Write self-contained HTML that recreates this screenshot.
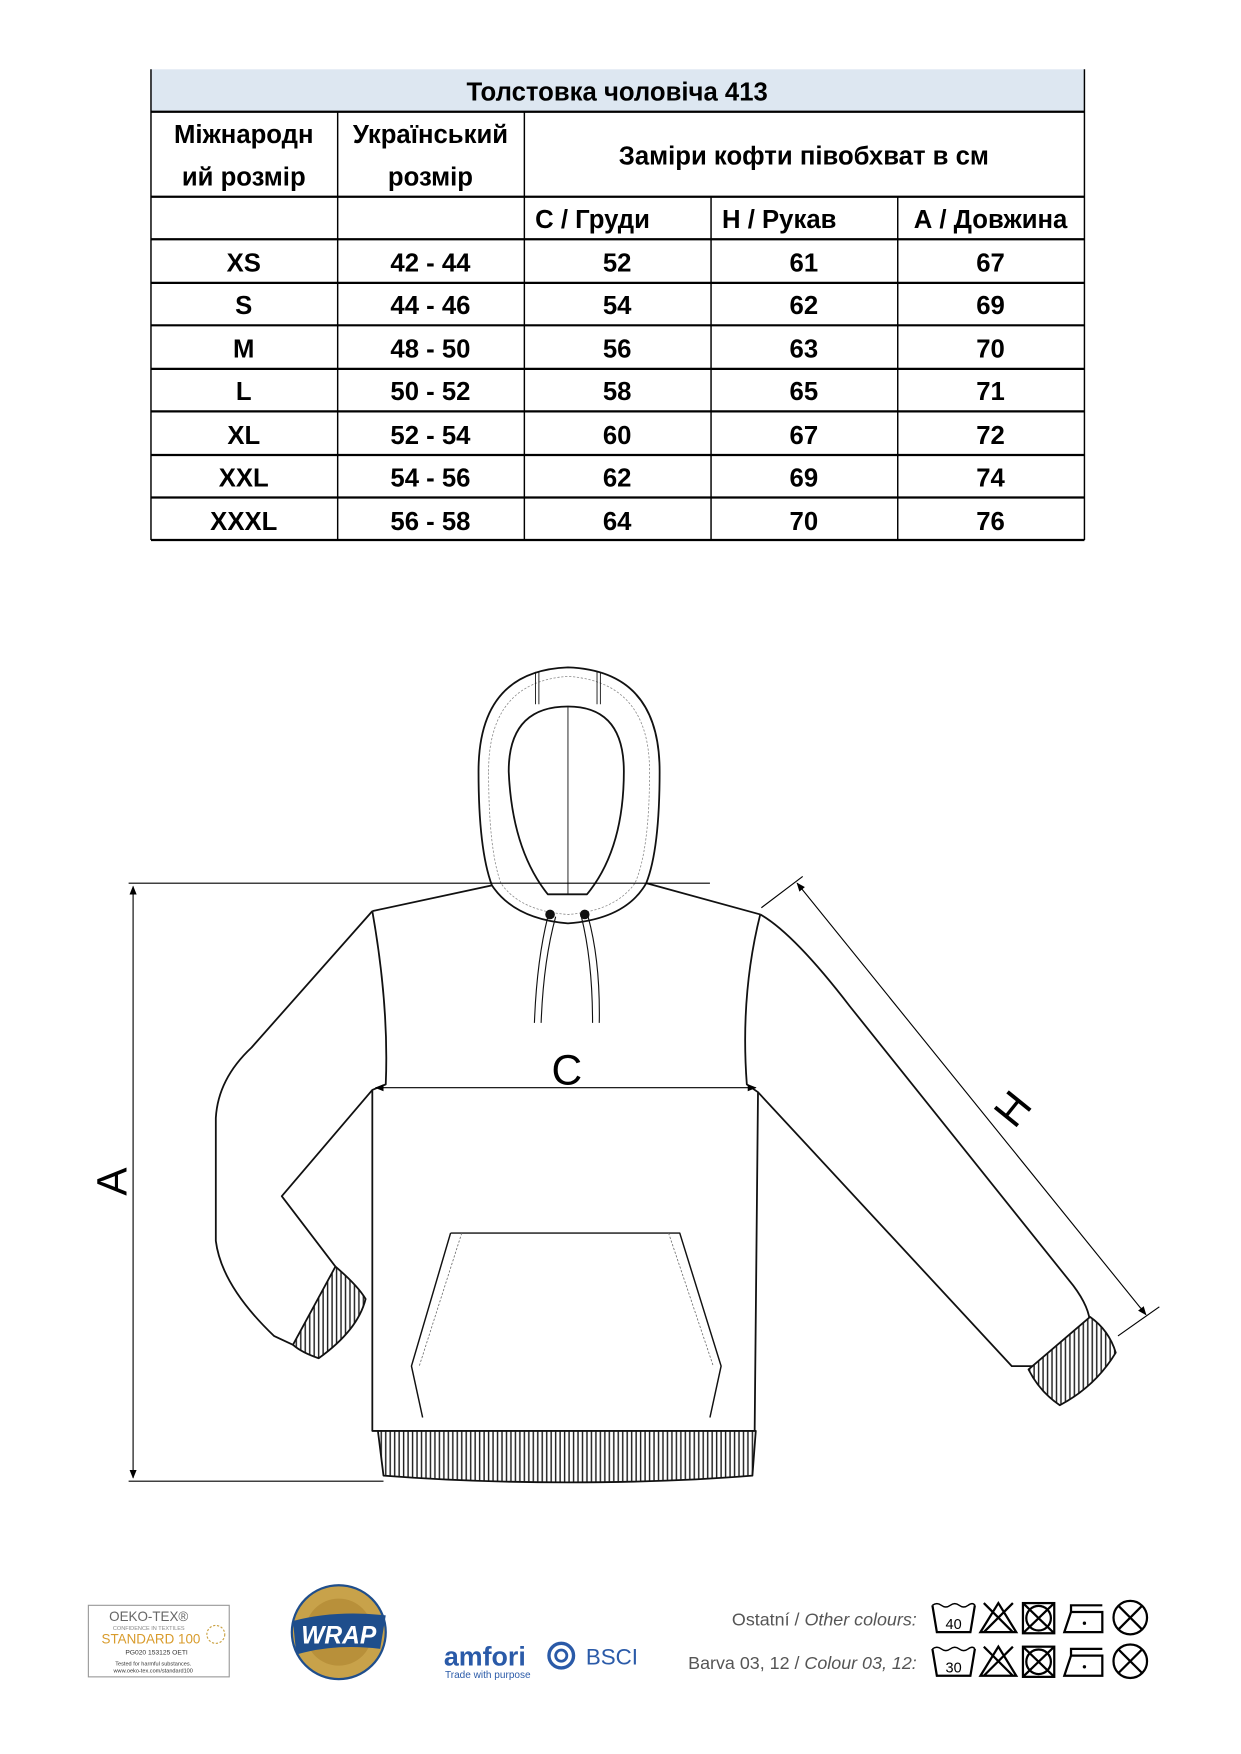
<!DOCTYPE html>
<html><head><meta charset="utf-8"><style>
html,body{margin:0;padding:0;background:#fff}
svg{display:block}
</style></head><body>
<svg width="1241" height="1754" viewBox="0 0 1110 1569" xmlns="http://www.w3.org/2000/svg">
<defs>
<pattern id="rib" width="4" height="10" patternUnits="userSpaceOnUse"><rect width="4" height="10" fill="#fff"/><line x1="1" y1="0" x2="1" y2="10" stroke="#222" stroke-width="1.3"/></pattern>
<marker id="ar" viewBox="0 0 10 10" refX="9" refY="5" markerWidth="8" markerHeight="8" orient="auto-start-reverse"><path d="M0,1 L10,5 L0,9 z" fill="#000"/></marker>
</defs>
<!-- TABLE -->
<g font-family="'Liberation Sans Narrow','Liberation Sans',sans-serif" font-weight="bold" font-size="23" text-anchor="middle" fill="#000">
<rect x="135" y="62" width="835" height="38" fill="#dde7f1"/>
<g stroke="#000" stroke-width="1.3">
<line x1="135" y1="100" x2="970" y2="100" stroke-width="2"/>
<line x1="135" y1="176" x2="970" y2="176" stroke-width="2"/>
<line x1="135" y1="214" x2="970" y2="214" stroke-width="2"/>
<line x1="135" y1="253" x2="970" y2="253" stroke-width="2"/>
<line x1="135" y1="291" x2="970" y2="291" stroke-width="2"/>
<line x1="135" y1="330" x2="970" y2="330" stroke-width="2"/>
<line x1="135" y1="368" x2="970" y2="368" stroke-width="2"/>
<line x1="135" y1="407" x2="970" y2="407" stroke-width="2"/>
<line x1="135" y1="445" x2="970" y2="445" stroke-width="2"/>
<line x1="135" y1="483" x2="970" y2="483" stroke-width="2"/>
<line x1="135" y1="62" x2="135" y2="483"/>
<line x1="970" y1="62" x2="970" y2="483"/>
<line x1="302" y1="100" x2="302" y2="483"/>
<line x1="469" y1="100" x2="469" y2="483"/>
<line x1="636" y1="176" x2="636" y2="483"/>
<line x1="803" y1="176" x2="803" y2="483"/>
</g>
<text x="552" y="90">Толстовка чоловіча 413</text>
<text x="218" y="128">Міжнародн</text><text x="218" y="166">ий розмір</text>
<text x="385" y="128">Український</text><text x="385" y="166">розмір</text>
<text x="719" y="147">Заміри кофти півобхват в см</text>
<text x="530" y="204">С / Груди</text><text x="697" y="204">Н / Рукав</text><text x="886" y="204">А / Довжина</text>
<g>
<text x="218" y="243">XS</text><text x="385" y="243">42 - 44</text><text x="552" y="243">52</text><text x="719" y="243">61</text><text x="886" y="243">67</text>
<text x="218" y="281">S</text><text x="385" y="281">44 - 46</text><text x="552" y="281">54</text><text x="719" y="281">62</text><text x="886" y="281">69</text>
<text x="218" y="320">M</text><text x="385" y="320">48 - 50</text><text x="552" y="320">56</text><text x="719" y="320">63</text><text x="886" y="320">70</text>
<text x="218" y="358">L</text><text x="385" y="358">50 - 52</text><text x="552" y="358">58</text><text x="719" y="358">65</text><text x="886" y="358">71</text>
<text x="218" y="397">XL</text><text x="385" y="397">52 - 54</text><text x="552" y="397">60</text><text x="719" y="397">67</text><text x="886" y="397">72</text>
<text x="218" y="435">XXL</text><text x="385" y="435">54 - 56</text><text x="552" y="435">62</text><text x="719" y="435">69</text><text x="886" y="435">74</text>
<text x="218" y="474">XXXL</text><text x="385" y="474">56 - 58</text><text x="552" y="474">64</text><text x="719" y="474">70</text><text x="886" y="474">76</text>
</g>
</g>

<!-- HOODIE -->
<g fill="none" stroke="#111" stroke-width="1.6" stroke-linejoin="round">
<path d="M333,815 L225,937 Q195,965 193,1000 L193,1110 Q198,1150 245,1195 L262,1203" fill="#fff"/>
<path d="M333,975 L252,1070 L300,1133" fill="#fff"/>
<path d="M680,818 Q710,835 760,900 L960,1150 Q975,1170 975,1185 L958,1202 Q940,1210 925,1222 L905,1222 L678,977"/>
<path d="M333,815 Q348,900 345,970 L333,975 L333,1280 L675,1280 L678,977 L668,970 Q662,890 680,818" fill="#fff"/>
<path d="M333,815 L440,792 M578,790 L680,818"/>
<path d="M440,792 Q428,760 428,690 Q428,600 508,597 Q590,600 590,690 Q590,760 578,790 Q560,822 508,826 Q460,822 440,792 Z" fill="#fff"/>
<path d="M508,632 Q455,632 455,690 Q458,760 490,800 L525,800 Q558,760 558,690 Q558,632 508,632 Z" fill="#fff"/>
<path d="M437,690 Q437,610 508,605 Q581,610 581,690 Q581,760 568,790 Q550,815 508,818 Q465,815 448,790 Q437,760 437,690Z" stroke="#888" stroke-width="0.7" stroke-dasharray="2,1.5"/>
<line x1="508" y1="632" x2="508" y2="800" stroke-width="0.8"/>
<path d="M479,601 L479,630 M482,601 L482,630 M534,601 L534,630 M537,601 L537,630" stroke-width="0.8"/>
<path d="M490,820 Q480,860 478,915 M497,820 Q486,860 484,915 M520,820 Q530,860 530,915 M526,820 Q537,860 536,915" stroke-width="1"/>
<circle cx="492" cy="818" r="3.5" fill="#111"/><circle cx="523" cy="818" r="3.5" fill="#111"/>
<path d="M403,1103 L608,1103 L645,1222 L635,1268 M403,1103 L368,1222 L378,1268" stroke-width="1.3"/>
<path d="M413,1103 L375,1222 M598,1103 L638,1222" stroke="#666" stroke-width="0.7" stroke-dasharray="2,1.5"/>
<path d="M338,1280 L676,1280 L673,1320 Q600,1326 508,1326 Q420,1326 343,1320 Z" fill="url(#rib)"/>
<path d="M262,1203 L300,1133 Q320,1150 327,1162 Q320,1190 285,1215 Q270,1210 262,1203 Z" fill="url(#rib)"/>
<path d="M920,1225 L975,1178 Q992,1190 998,1210 Q980,1240 948,1257 Q930,1245 920,1225 Z" fill="url(#rib)"/>
</g>
<g stroke="#000" stroke-width="1" fill="none">
<line x1="115" y1="790" x2="635" y2="790"/>
<line x1="115" y1="1325" x2="343" y2="1325"/>
<line x1="119" y1="793" x2="119" y2="1322" marker-start="url(#ar)" marker-end="url(#ar)"/>
<line x1="336" y1="973" x2="676" y2="973" marker-start="url(#ar)" marker-end="url(#ar)"/>
<line x1="681" y1="812" x2="718" y2="784"/>
<line x1="1000" y1="1195" x2="1037" y2="1169"/>
<line x1="713" y1="790" x2="1025" y2="1176" marker-start="url(#ar)" marker-end="url(#ar)"/>
</g>
<g font-family="'Liberation Sans',sans-serif" font-size="38" fill="#000" text-anchor="middle">
<text x="507" y="970">C</text>
<text transform="translate(113,1057) rotate(-90)">A</text>
<text transform="translate(916,1000) rotate(-51)">H</text>
</g>

<!-- FOOTER -->
<rect x="79" y="1436" width="126" height="64" fill="#fff" stroke="#999"/>
<g font-family="'Liberation Sans Narrow','Liberation Sans',sans-serif" text-anchor="middle">
<text x="133" y="1450" font-size="12" fill="#666">OEKO-TEX®</text>
<text x="133" y="1458" font-size="5" fill="#888">CONFIDENCE IN TEXTILES</text>
<text x="135" y="1470" font-size="12" fill="#d89b2b">STANDARD 100</text>
<text x="140" y="1480" font-size="6" fill="#333">PG020 153125 OETI</text>
<text x="137" y="1490" font-size="5" fill="#333">Tested for harmful substances.</text>
<text x="137" y="1496" font-size="5" fill="#333">www.oeko-tex.com/standard100</text>
</g>
<circle cx="193" cy="1462" r="8" fill="none" stroke="#c9a040" stroke-dasharray="2,1.5"/>
<circle cx="303" cy="1460" r="42" fill="#c8a24a" stroke="#1f4e8c" stroke-width="2"/>
<circle cx="303" cy="1460" r="30" fill="#b8903a"/>
<path d="M262,1450 Q300,1440 345,1445 L340,1475 Q300,1470 265,1480 Z" fill="#1f4e8c"/>
<text x="303" y="1470" font-family="'Liberation Sans',sans-serif" font-weight="bold" font-style="italic" font-size="22" fill="#fff" text-anchor="middle">WRAP</text>
<text x="397" y="1490" font-family="'Liberation Sans',sans-serif" font-weight="bold" font-size="24" fill="#2a5aa8">amfori</text>
<circle cx="502" cy="1481" r="11" fill="none" stroke="#2a5aa8" stroke-width="3"/><circle cx="502" cy="1481" r="5" fill="none" stroke="#2a5aa8" stroke-width="2.5"/>
<text x="524" y="1489" font-family="'Liberation Sans',sans-serif" font-size="20" fill="#2a5aa8">BSCI</text>
<text x="398" y="1501" font-family="'Liberation Sans',sans-serif" font-size="9" fill="#2a5aa8">Trade with purpose</text>
<g font-family="'Liberation Sans',sans-serif" font-size="16" fill="#555" text-anchor="end">
<text x="820" y="1454">Ostatní / <tspan font-style="italic">Other colours:</tspan></text>
<text x="820" y="1493">Barva 03, 12 / <tspan font-style="italic">Colour 03, 12:</tspan></text>
</g>
<g fill="none" stroke="#000" stroke-width="2">
<g id="care">
<path d="M834,1436 L838,1460 L868,1460 L872,1436"/><path d="M834,1436 q4,-3 8,0 q4,3 8,0 q4,-3 8,0 q4,3 8,0 q4,-3 6,0" stroke-width="1.3"/>
<path d="M877,1460 L893,1434 L909,1460 Z M880,1434 L906,1460 M906,1434 L880,1460"/>
<rect x="915" y="1434" width="28" height="27"/><circle cx="929" cy="1447.5" r="11"/><path d="M915,1434 L943,1461 M943,1434 L915,1461"/>
<path d="M952,1460 L958,1442 L986,1442 L986,1460 Z M958,1442 L958,1436 L986,1436"/>
<circle cx="1011" cy="1447" r="15"/><path d="M1000,1436 L1022,1458 M1022,1436 L1000,1458"/>
</g>
<use href="#care" y="39"/>
</g>
<text x="853" y="1457" font-family="'Liberation Sans',sans-serif" font-size="13" text-anchor="middle">40</text>
<text x="853" y="1496" font-family="'Liberation Sans',sans-serif" font-size="13" text-anchor="middle">30</text>
<circle cx="970" cy="1452" r="1.5"/><circle cx="970" cy="1491" r="1.5"/>
</svg>
</body></html>
